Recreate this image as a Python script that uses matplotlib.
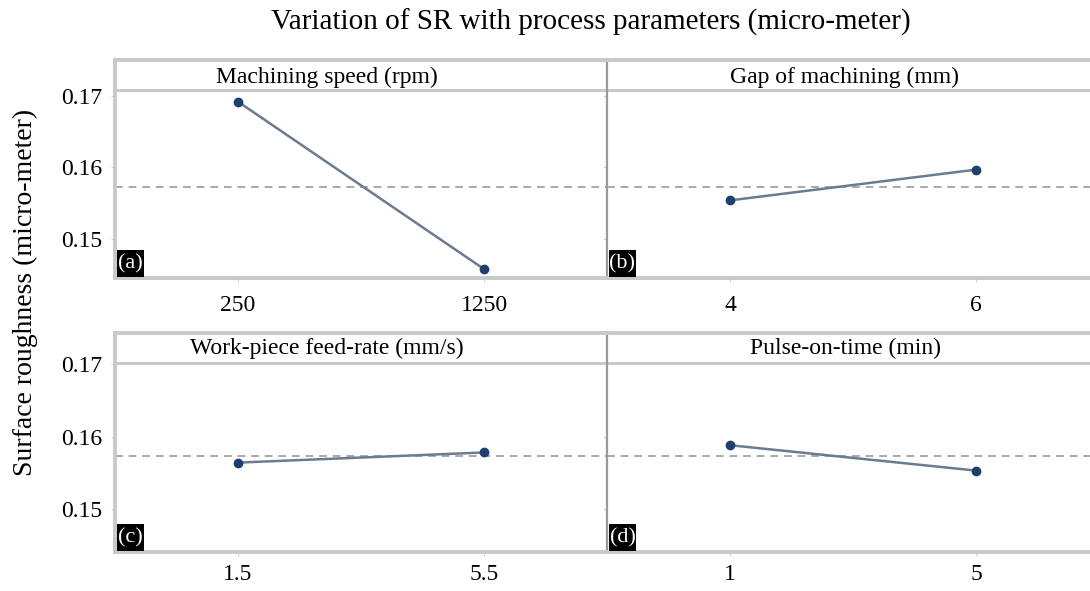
import numpy as np
import matplotlib
matplotlib.use('Agg')
import matplotlib.pyplot as plt
from matplotlib.patches import Rectangle

plt.rcParams['font.family'] = ['Liberation Serif', 'DejaVu Serif']

# main effects of each factor on surface roughness (micro-meter)
factors = ['Machining speed (rpm)', 'Gap of machining (mm)',
           'Work-piece feed-rate (mm/s)', 'Pulse-on-time (min)']
panel_tags = ['(a)', '(b)', '(c)', '(d)']
speed_levels = ['250', '1250']
speed_sr = [0.1692, 0.1458]
gap_levels = ['4', '6']
gap_sr = [0.1554, 0.1597]
feed_levels = ['1.5', '5.5']
feed_sr = [0.1564, 0.1578]
pulse_levels = ['1', '5']
pulse_sr = [0.1588, 0.1553]
yticks = [0.15, 0.16, 0.17]

levels = [speed_levels, gap_levels, feed_levels, pulse_levels]
values = [speed_sr, gap_sr, feed_sr, pulse_sr]
grand_mean = np.mean(np.concatenate(values))

W, H = 1090, 591
fig = plt.figure(figsize=(W / 100, H / 100), dpi=100)
fig.patch.set_facecolor('white')

# layout in pixels
rows = [dict(top=60, bottom=278, ylim=(0.14455, 0.17503), strip=0.17084,
             title_y=77, pad=9),
        dict(top=333, bottom=552, ylim=(0.14407, 0.17428), strip=0.17014,
             title_y=348, pad=6)]
cols = [dict(left=115, right=607, title_x=327),
        dict(left=607, right=1099, title_x=845)]

frame_col = '#c9c9c9'
line_col = '#6b7b90'
marker_col = '#1d406c'

for i in range(4):
    r = rows[i // 2]
    c = cols[i % 2]
    ax = fig.add_axes([c['left'] / W, 1 - r['bottom'] / H,
                       (c['right'] - c['left']) / W,
                       (r['bottom'] - r['top']) / H])
    x = np.arange(len(levels[i]))
    ax.axhline(grand_mean, color='#a9a9a9', lw=1.4, ls=(0, (4, 3)), zorder=1)
    ax.axhline(r['strip'], color=frame_col, lw=2.2, zorder=2)
    ax.plot(x, values[i], color=line_col, lw=1.8, zorder=3)
    ax.plot(x, values[i], 'o', color=marker_col, ms=6, zorder=4)
    ax.set_xlim(-0.5, 1.5)
    ax.set_ylim(*r['ylim'])
    ax.set_xticks(x)
    ax.set_xticklabels(levels[i], fontsize=17)
    ax.set_yticks(yticks)
    if i % 2 == 0:
        ax.set_yticklabels(['%.2f' % v for v in yticks], fontsize=17)
    else:
        ax.set_yticklabels([])
    ax.tick_params(axis='x', length=3, color='#d5d5d5', pad=r['pad'])
    ax.tick_params(axis='y', length=3, color='#d5d5d5', pad=6)
    for name, sp in ax.spines.items():
        sp.set_color(frame_col)
        sp.set_linewidth(2.8)
    ax.spines['right'].set_visible(False)
    if i % 2 == 1:
        ax.spines['left'].set_color('#9a9a9a')
        ax.spines['left'].set_linewidth(1.6)

    # factor name in the header strip
    fig.text(c['title_x'] / W, 1 - r['title_y'] / H, factors[i],
             fontsize=17, ha='center', va='center')

    # black tag box in the lower left corner
    bx = (c['left'] + 2) / W
    by = 1 - (r['bottom'] - 1) / H
    fig.patches.append(Rectangle((bx, by), 27 / W, 27 / H,
                                 transform=fig.transFigure,
                                 facecolor='black', edgecolor='none',
                                 zorder=5))
    fig.text(bx + 13.5 / W, by + 13 / H, panel_tags[i], color='white',
             fontsize=16, ha='center', va='center', zorder=6)

fig.text(591 / W, 1 - 22 / H,
         'Variation of SR with process parameters (micro-meter)',
         fontsize=21, ha='center', va='center')
fig.text(25 / W, 1 - 292 / H, 'Surface roughness (micro-meter)',
         fontsize=20, ha='center', va='center', rotation=90)

fig.savefig('out.png', dpi=100, facecolor='white')
